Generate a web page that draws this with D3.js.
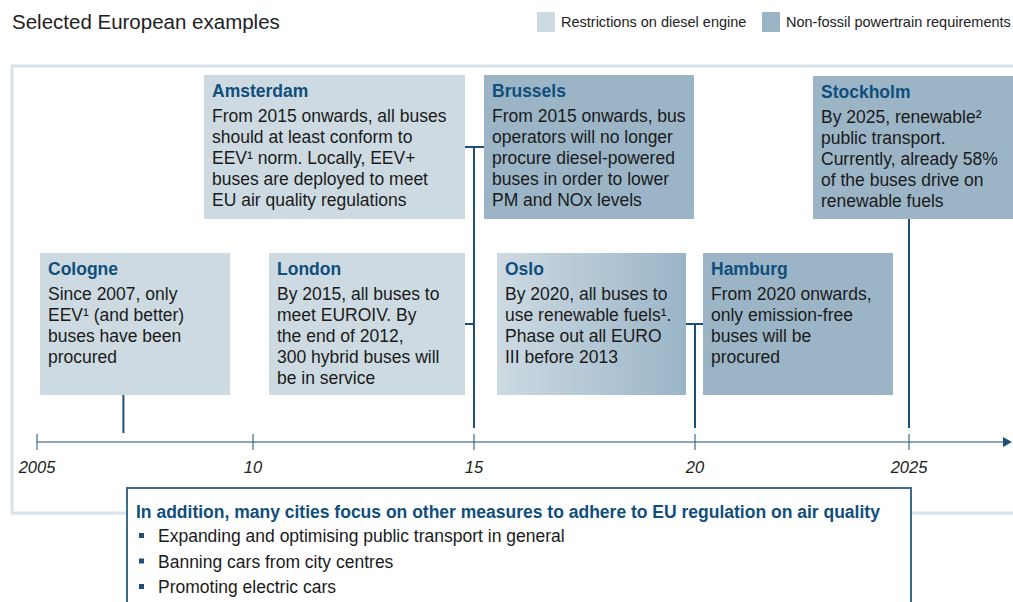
<!DOCTYPE html>
<html lang="en">
<head>
<meta charset="UTF-8">
<title>Selected European examples</title>
<script src="https://d3js.org/d3.v7.min.js"></script>
<style>
  body { margin: 0; background: #fff; }
  svg { display: block; font-family: "Liberation Sans", Arial, sans-serif; }
</style>
</head>
<body>
<div id="chart"></div>
<script>
// --- data ---
const cities = ["Cologne", "London", "Amsterdam", "Brussels", "Oslo", "Hamburg", "Stockholm"];
const cityYears = [2007, 2015, 2015, 2015, 2020, 2020, 2025];
const cityTypes = ["diesel", "diesel", "diesel", "nonfossil", "mixed", "nonfossil", "nonfossil"];
const cityTexts = [
  ["Since 2007, only", "EEV¹ (and better)", "buses have been", "procured"],
  ["By 2015, all buses to", "meet EUROIV. By", "the end of 2012,", "300 hybrid buses will", "be in service"],
  ["From 2015 onwards, all buses", "should at least conform to", "EEV¹ norm. Locally, EEV+", "buses are deployed to meet", "EU air quality regulations"],
  ["From 2015 onwards, bus", "operators will no longer", "procure diesel-powered", "buses in order to lower", "PM and NOx levels"],
  ["By 2020, all buses to", "use renewable fuels¹.", "Phase out all EURO", "III before 2013"],
  ["From 2020 onwards,", "only emission-free", "buses will be", "procured"],
  ["By 2025, renewable²", "public transport.", "Currently, already 58%", "of the buses drive on", "renewable fuels"]
];
const tickYears = [2005, 2010, 2015, 2020, 2025];
const tickLabels = ["2005", "10", "15", "20", "2025"];
const legendLabels = ["Restrictions on diesel engine", "Non-fossil powertrain requirements"];
const noteTitle = "In addition, many cities focus on other measures to adhere to EU regulation on air quality";
const noteItems = ["Expanding and optimising public transport in general", "Banning cars from city centres", "Promoting electric cars"];

// --- layout (box placement, pixels) ---
const boxLayout = [
  { x: 40,  y: 253, w: 190, h: 142, side: "below" },
  { x: 269, y: 253, w: 196, h: 142, side: "left" },
  { x: 204, y: 75,  w: 261, h: 144, side: "left" },
  { x: 484, y: 75,  w: 210, h: 144, side: "right" },
  { x: 497, y: 253, w: 189, h: 142, side: "left" },
  { x: 703, y: 253, w: 190, h: 142, side: "right" },
  { x: 813, y: 76,  w: 200, h: 143, side: "below" }
];

const W = 1013, H = 602;
const axisY = 442;
const fs = 17.5;
const lightC = "#cddae2", darkC = "#9bb5c7", lineC = "#1d4f78", headC = "#104e7c";

const svg = d3.select("#chart").append("svg").attr("width", W).attr("height", H);

const defs = svg.append("defs");
const grad = defs.append("linearGradient").attr("id", "mixGrad");
grad.append("stop").attr("offset", "0%").attr("stop-color", lightC);
grad.append("stop").attr("offset", "100%").attr("stop-color", darkC);
const fillFor = t => t === "diesel" ? lightC : t === "nonfossil" ? darkC : "url(#mixGrad)";

// title + legend
svg.append("text").attr("x", 12).attr("y", 29).attr("font-size", 20.5).attr("fill", "#222")
  .text("Selected European examples");
const legendX = [537, 762];
legendLabels.forEach((l, i) => {
  svg.append("rect").attr("x", legendX[i]).attr("y", 12).attr("width", 18).attr("height", 20)
    .attr("fill", i === 0 ? lightC : darkC);
  svg.append("text").attr("x", legendX[i] + 24).attr("y", 27).attr("font-size", 14.5).attr("fill", "#222").text(l);
});

// outer panel
svg.append("rect").attr("x", 12).attr("y", 66).attr("width", 1020).attr("height", 447)
  .attr("fill", "none").attr("stroke", "#d8e2ea").attr("stroke-width", 3);

// year scale (piecewise to follow the slide's tick spacing)
const x = d3.scaleLinear().domain(tickYears).range([37, 253, 474, 695, 909]);

// axis
const axisG = svg.append("g");
axisG.append("line").attr("x1", x(2005)).attr("x2", 1004).attr("y1", axisY).attr("y2", axisY)
  .attr("stroke", lineC).attr("stroke-width", 1.2);
axisG.append("path").attr("d", `M1003,${axisY - 5}L1012,${axisY}L1003,${axisY + 5}Z`).attr("fill", lineC);
axisG.selectAll("line.tick").data(tickYears).join("line").attr("class", "tick")
  .attr("x1", d => x(d)).attr("x2", d => x(d)).attr("y1", axisY - 8).attr("y2", axisY + 8)
  .attr("stroke", lineC).attr("stroke-width", 1);
axisG.selectAll("text").data(tickYears).join("text")
  .attr("x", d => x(d)).attr("y", axisY + 31).attr("text-anchor", "middle")
  .attr("font-size", 16.5).attr("font-style", "italic").attr("fill", "#222")
  .text((d, i) => tickLabels[i]);

// stems and connectors
const conn = svg.append("g").attr("stroke", lineC).attr("stroke-width", 2).attr("fill", "none");
const stemTop = {};
cities.forEach((c, i) => {
  const b = boxLayout[i], yr = cityYears[i], sx = x(yr);
  if (b.side === "below") {
    conn.append("line").attr("x1", sx).attr("x2", sx).attr("y1", b.y + b.h).attr("y2", axisY - (yr === 2025 ? 14 : 9));
  } else {
    const cy = b.y + b.h / 2;
    const ex = b.side === "left" ? b.x + b.w : b.x;
    conn.append("line").attr("x1", ex).attr("x2", sx).attr("y1", cy).attr("y2", cy);
    stemTop[yr] = Math.min(stemTop[yr] ?? Infinity, cy);
  }
});
Object.keys(stemTop).forEach(yr => {
  conn.append("line").attr("x1", x(+yr)).attr("x2", x(+yr)).attr("y1", stemTop[yr] - 1).attr("y2", axisY - 14);
});

// city boxes
cities.forEach((c, i) => {
  const b = boxLayout[i];
  const g = svg.append("g");
  g.append("rect").attr("x", b.x).attr("y", b.y).attr("width", b.w).attr("height", b.h).attr("fill", fillFor(cityTypes[i]));
  g.append("text").attr("x", b.x + 8).attr("y", b.y + 22).attr("font-size", fs).attr("font-weight", "bold")
    .attr("fill", headC).text(c);
  g.selectAll("text.body").data(cityTexts[i]).join("text").attr("class", "body")
    .attr("x", b.x + 8).attr("y", (d, j) => b.y + 47 + j * 21)
    .attr("font-size", fs).attr("fill", "#1a1a1a").text(d => d);
});

// bottom note
const nb = svg.append("g");
nb.append("rect").attr("x", 127).attr("y", 488).attr("width", 784).attr("height", 140)
  .attr("fill", "#fff").attr("stroke", "#3e6c8f").attr("stroke-width", 2);
nb.append("text").attr("x", 136).attr("y", 518).attr("font-size", fs).attr("font-weight", "bold")
  .attr("fill", headC).text(noteTitle);
noteItems.forEach((t, j) => {
  const by = 542 + j * 25.5;
  nb.append("rect").attr("x", 139).attr("y", by - 9).attr("width", 5).attr("height", 5).attr("fill", lineC);
  nb.append("text").attr("x", 158).attr("y", by).attr("font-size", fs).attr("fill", "#1a1a1a").text(t);
});
</script>
</body>
</html>
